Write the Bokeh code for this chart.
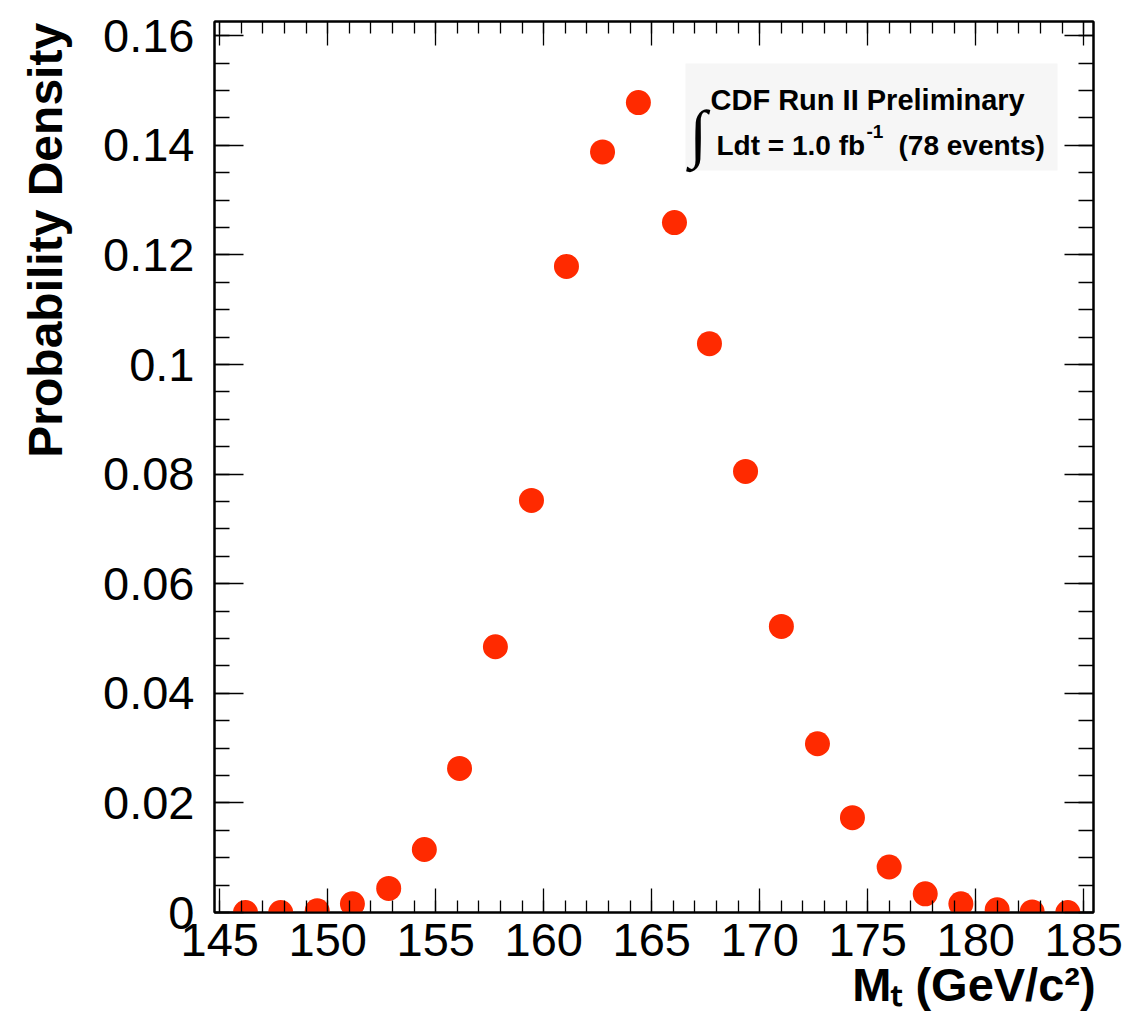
import math
from bokeh.plotting import figure
from bokeh.models import (LinearAxis, SingleIntervalTicker, CustomJSTickFormatter,
                          Label, Range1d, ColumnDataSource, BoxAnnotation)
from bokeh.embed import file_html
from bokeh.resources import INLINE

# ---- data ----
top_mass = [146.19, 147.82, 149.51, 151.14, 152.82, 154.47, 156.10, 157.76,
            159.43, 161.05, 162.72, 164.38, 166.05, 167.67, 169.34, 171.00,
            172.67, 174.29, 175.99, 177.66, 179.31, 180.99, 182.61, 184.26]
prob_density = [0.0000, 0.0000, 0.0003, 0.0016, 0.0044, 0.0115, 0.0263, 0.0485,
                0.0752, 0.1179, 0.1388, 0.1478, 0.1259, 0.1038, 0.0805, 0.0522,
                0.0308, 0.0173, 0.0083, 0.0034, 0.0016, 0.0005, 0.0001, 0.0000]

x_label = "M\u209c (GeV/c\u00b2)"
y_label = "Probability Density"
legend_line1 = "CDF Run II Preliminary"
legend_line2 = "Ldt = 1.0 fb"
legend_sup = "-1"
legend_tail = "(78 events)"

X0, X1 = 144.755, 185.45
Y0, Y1 = 0.0, 0.1626
W, H = 1127, 1018
L, R, T, B = 214, 1093, 21, 912

FONT = "Liberation Sans"
RED = "#ff2a00"
NBSP = "\u00a0"

def dx(px):
    return X0 + (px - L) * (X1 - X0) / (R - L)

def dy(py):
    return Y0 + (B - py) * (Y1 - Y0) / (B - T)

p = figure(width=W, height=H, output_backend="svg", toolbar_location=None,
           x_range=Range1d(X0, X1), y_range=Range1d(Y0, Y1),
           x_axis_type=None, y_axis_type=None,
           min_border_left=L, min_border_right=W - R,
           min_border_top=T, min_border_bottom=H - B)
p.outline_line_color = "black"
p.outline_line_width = 2
p.background_fill_color = "white"
p.border_fill_color = "white"

def make_axis(ticker, formatter, major_len, minor_len, font_size, standoff):
    return LinearAxis(ticker=ticker, formatter=formatter,
                      major_tick_in=major_len, major_tick_out=0,
                      minor_tick_in=minor_len, minor_tick_out=0,
                      axis_line_width=2, axis_line_color="black",
                      major_tick_line_width=1.3, minor_tick_line_width=1.3,
                      major_tick_line_color="black", minor_tick_line_color="black",
                      major_label_text_font=FONT,
                      major_label_text_font_size=font_size,
                      major_label_text_color="black",
                      major_label_standoff=standoff)

blank = CustomJSTickFormatter(code="return '';")
yfmt = CustomJSTickFormatter(code="return String(Number(tick.toFixed(3)));")
xfmt = CustomJSTickFormatter(code="return String(Math.round(tick));")

# bottom axis: label pushed to the right end of the frame with leading no-break spaces
xb = make_axis(SingleIntervalTicker(interval=5, num_minor_ticks=5), xfmt, 24, 12, "47px", 11)
xb.major_label_text_line_height = 1.0
xb.axis_label = NBSP * 49 + x_label
xb.axis_label_text_font = FONT
xb.axis_label_text_font_style = "bold"
xb.axis_label_text_font_size = "47px"
xb.axis_label_text_color = "black"
xb.axis_label_text_line_height = 1.0
xb.axis_label_standoff = -1

xt = make_axis(SingleIntervalTicker(interval=5, num_minor_ticks=5), blank, 24, 12, "0px", 0)

# left axis: label pushed towards the top of the frame
yl = make_axis(SingleIntervalTicker(interval=0.02, num_minor_ticks=4), yfmt, 29, 15, "47px", 20)
yl.axis_label = NBSP * 34 + y_label
yl.axis_label_text_font = FONT
yl.axis_label_text_font_style = "bold"
yl.axis_label_text_font_size = "48px"
yl.axis_label_text_color = "black"
yl.axis_label_standoff = 28

yr = make_axis(SingleIntervalTicker(interval=0.02, num_minor_ticks=4), blank, 29, 15, "0px", 0)
p.add_layout(xb, "below")
p.add_layout(xt, "above")
p.add_layout(yl, "left")
p.add_layout(yr, "right")

src = ColumnDataSource(dict(x=top_mass, y=prob_density))
p.scatter("x", "y", source=src, size=25, fill_color=RED, line_color=RED, line_width=0)

# legend box
p.add_layout(BoxAnnotation(left=dx(685), right=dx(1057), top=dy(63), bottom=dy(170),
                           fill_color="#f6f6f6", fill_alpha=1.0, line_alpha=0,
                           level="underlay"))

def lab(px, py, text, size, bold=True, font=FONT, align="left", angle=0.0):
    p.add_layout(Label(x=dx(px), y=dy(py), text=text, text_font=font,
                       text_font_size=size,
                       text_font_style="bold" if bold else "normal",
                       text_align=align, text_baseline="alphabetic",
                       text_color="black", angle=angle))

lab(710, 99, legend_line1, "29px")
lab(689, 133, "\u222b", "64px", bold=True, font="Liberation Serif")
lab(716, 145, legend_line2, "28px")
lab(866, 131, legend_sup, "19px")
lab(898, 145, legend_tail, "28px")

open("out.html", "w").write(file_html(p, INLINE))
